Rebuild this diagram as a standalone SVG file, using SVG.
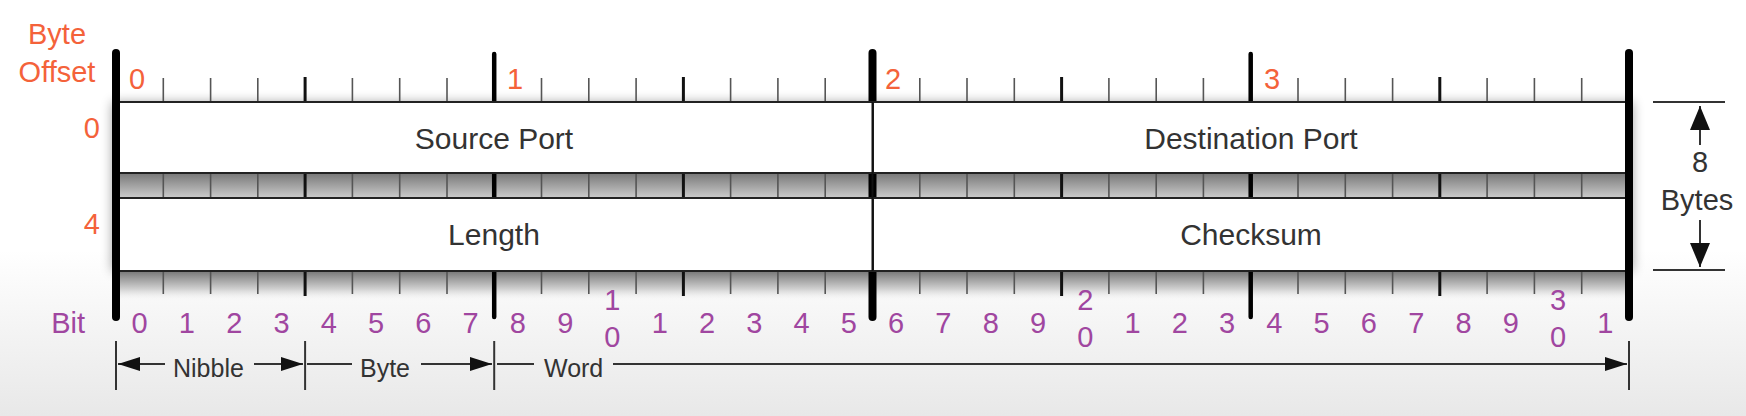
<svg xmlns="http://www.w3.org/2000/svg" width="1746" height="416" viewBox="0 0 1746 416">
<defs>
<linearGradient id="bg" x1="0" y1="250" x2="0" y2="416" gradientUnits="userSpaceOnUse"><stop offset="0" stop-color="#ffffff"/><stop offset="1" stop-color="#e8e8e8"/></linearGradient>
<linearGradient id="strip" x1="0" y1="0" x2="0" y2="1"><stop offset="0" stop-color="#777777"/><stop offset="1" stop-color="#cccccc"/></linearGradient>
<linearGradient id="fade" x1="0" y1="0" x2="0" y2="1"><stop offset="0" stop-color="#777777"/><stop offset="0.6" stop-color="#d0d0d0"/><stop offset="1" stop-color="#f6f6f6" stop-opacity="0"/></linearGradient>
<filter id="blur" x="-5%" y="-30%" width="110%" height="160%"><feGaussianBlur stdDeviation="6"/></filter>
<marker id="ah" viewBox="0 0 22 14" refX="22" refY="7" markerWidth="22" markerHeight="14" markerUnits="userSpaceOnUse" orient="auto"><path d="M0,0 L22,7 L0,14 z" fill="#111"/></marker>
<marker id="ahv" viewBox="0 0 24 20" refX="24" refY="10" markerWidth="24" markerHeight="20" markerUnits="userSpaceOnUse" orient="auto"><path d="M0,0 L24,10 L0,20 z" fill="#111"/></marker>
</defs>
<style>
.minor{stroke:#555;stroke-width:1.6}
.nib{stroke:#111;stroke-width:3}
.byte{stroke:#000;stroke-width:4.5;stroke-linecap:round}
.bar{stroke:#000;stroke-width:8;stroke-linecap:round}
.box{fill:#fff;stroke:#222;stroke-width:2}
.lbl{font-family:"Liberation Sans",Arial,sans-serif;font-size:30px;fill:#333;text-anchor:middle}
.off{font-family:"Liberation Sans",Arial,sans-serif;font-size:29px;fill:#f4623a}
.bit{font-family:"Liberation Sans",Arial,sans-serif;font-size:29px;fill:#a046a0;text-anchor:middle}
.dim{stroke:#333;stroke-width:2;fill:none}
.dtx{font-family:"Liberation Sans",Arial,sans-serif;font-size:25px;fill:#333}
</style>
<rect x="0" y="0" width="1746" height="416" fill="url(#bg)"/>
<rect x="112" y="102" width="1521" height="169" fill="#000" opacity="0.35" filter="url(#blur)"/>
<g id="ruler">
<rect x="116" y="173" width="1513" height="25" fill="url(#strip)"/>
<rect x="116" y="271" width="1513" height="30" fill="url(#fade)"/>
<g class="minor">
<line x1="163.3" y1="78" x2="163.3" y2="294"/><line x1="210.6" y1="78" x2="210.6" y2="294"/><line x1="257.8" y1="78" x2="257.8" y2="294"/>
<line x1="352.4" y1="78" x2="352.4" y2="294"/><line x1="399.7" y1="78" x2="399.7" y2="294"/><line x1="447" y1="78" x2="447" y2="294"/>
<line x1="541.5" y1="78" x2="541.5" y2="294"/><line x1="588.8" y1="78" x2="588.8" y2="294"/><line x1="636.1" y1="78" x2="636.1" y2="294"/>
<line x1="730.6" y1="78" x2="730.6" y2="294"/><line x1="777.9" y1="78" x2="777.9" y2="294"/><line x1="825.2" y1="78" x2="825.2" y2="294"/>
<line x1="919.8" y1="78" x2="919.8" y2="294"/><line x1="967" y1="78" x2="967" y2="294"/><line x1="1014.3" y1="78" x2="1014.3" y2="294"/>
<line x1="1108.9" y1="78" x2="1108.9" y2="294"/><line x1="1156.2" y1="78" x2="1156.2" y2="294"/><line x1="1203.4" y1="78" x2="1203.4" y2="294"/>
<line x1="1298" y1="78" x2="1298" y2="294"/><line x1="1345.3" y1="78" x2="1345.3" y2="294"/><line x1="1392.6" y1="78" x2="1392.6" y2="294"/>
<line x1="1487.1" y1="78" x2="1487.1" y2="294"/><line x1="1534.4" y1="78" x2="1534.4" y2="294"/><line x1="1581.7" y1="78" x2="1581.7" y2="294"/>
</g>
<g class="nib">
<line x1="305.1" y1="77" x2="305.1" y2="296"/><line x1="683.4" y1="77" x2="683.4" y2="296"/><line x1="1061.6" y1="77" x2="1061.6" y2="296"/><line x1="1439.8" y1="77" x2="1439.8" y2="296"/>
</g>
<g class="byte">
<line x1="494.2" y1="54" x2="494.2" y2="317"/><line x1="1250.7" y1="54" x2="1250.7" y2="317"/>
</g>
<line class="bar" x1="872.5" y1="53" x2="872.5" y2="317"/>
</g>
<g id="source-port"><rect class="box" x="116" y="102" width="757" height="71"/><text class="lbl" x="494" y="149">Source Port</text></g>
<g id="destination-port"><rect class="box" x="873" y="102" width="756" height="71"/><text class="lbl" x="1251" y="149">Destination Port</text></g>
<g id="length"><rect class="box" x="116" y="198" width="757" height="73"/><text class="lbl" x="494" y="245">Length</text></g>
<g id="checksum"><rect class="box" x="873" y="198" width="756" height="73"/><text class="lbl" x="1251" y="245">Checksum</text></g>
<g id="frame">
<line x1="872.5" y1="102" x2="872.5" y2="271" stroke="#111" stroke-width="2"/>
<line class="bar" x1="116" y1="53" x2="116" y2="317"/>
<line class="bar" x1="1629" y1="53" x2="1629" y2="317"/>
</g>
<g id="byte-offset-labels" class="off">
<text x="57" y="44" text-anchor="middle">Byte</text>
<text x="57" y="82" text-anchor="middle">Offset</text>
<text x="129" y="89">0</text><text x="507" y="89">1</text><text x="885" y="89">2</text><text x="1264" y="89">3</text>
<text x="100" y="138" text-anchor="end">0</text>
<text x="100" y="234" text-anchor="end">4</text>
</g>
<g id="bit-labels" class="bit">
<text x="85" y="333" text-anchor="end">Bit</text>
<text x="139.6" y="333">0</text><text x="186.9" y="333">1</text><text x="234.2" y="333">2</text><text x="281.5" y="333">3</text>
<text x="328.8" y="333">4</text><text x="376" y="333">5</text><text x="423.3" y="333">6</text><text x="470.6" y="333">7</text>
<text x="517.9" y="333">8</text><text x="565.2" y="333">9</text>
<text x="612.4" y="310">1</text><text x="612.4" y="347">0</text>
<text x="659.7" y="333">1</text><text x="707" y="333">2</text><text x="754.3" y="333">3</text><text x="801.6" y="333">4</text>
<text x="848.8" y="333">5</text><text x="896.1" y="333">6</text><text x="943.4" y="333">7</text><text x="990.7" y="333">8</text>
<text x="1038" y="333">9</text>
<text x="1085.2" y="310">2</text><text x="1085.2" y="347">0</text>
<text x="1132.5" y="333">1</text><text x="1179.8" y="333">2</text><text x="1227.1" y="333">3</text><text x="1274.4" y="333">4</text>
<text x="1321.6" y="333">5</text><text x="1368.9" y="333">6</text><text x="1416.2" y="333">7</text><text x="1463.5" y="333">8</text>
<text x="1510.8" y="333">9</text>
<text x="1558" y="310">3</text><text x="1558" y="347">0</text>
<text x="1605.3" y="333">1</text>
</g>
<g id="size-labels" class="dtx">
<text x="173" y="377">Nibble</text>
<text x="360" y="377">Byte</text>
<text x="544" y="377">Word</text>
</g>
<g id="bytes-label" class="lbl" style="font-size:29px">
<text x="1700" y="172">8</text>
<text x="1697" y="210">Bytes</text>
</g>
<g id="connectors" class="dim">
<line x1="116" y1="341" x2="116" y2="390"/>
<line x1="305.1" y1="341" x2="305.1" y2="390"/>
<line x1="494.2" y1="341" x2="494.2" y2="390"/>
<line x1="1629" y1="341" x2="1629" y2="390"/>
<line x1="165" y1="364" x2="118" y2="364" marker-end="url(#ah)"/>
<line x1="254" y1="364" x2="303" y2="364" marker-end="url(#ah)"/>
<line x1="307" y1="364" x2="352" y2="364"/>
<line x1="421" y1="364" x2="492" y2="364" marker-end="url(#ah)"/>
<line x1="497" y1="364" x2="534" y2="364"/>
<line x1="613" y1="364" x2="1627" y2="364" marker-end="url(#ah)"/>
<line x1="1653" y1="102" x2="1725" y2="102"/>
<line x1="1653" y1="270" x2="1725" y2="270"/>
<line x1="1700" y1="145" x2="1700" y2="106" marker-end="url(#ahv)"/>
<line x1="1700" y1="220" x2="1700" y2="267" marker-end="url(#ahv)"/>
</g>
</svg>
